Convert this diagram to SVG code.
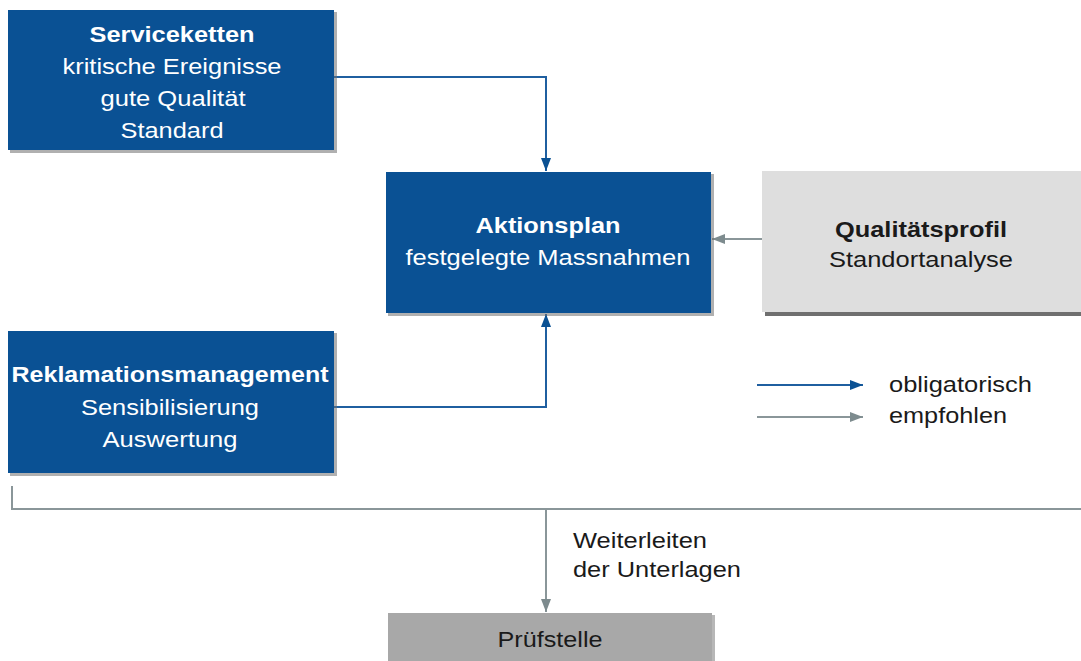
<svg xmlns="http://www.w3.org/2000/svg" width="1081" height="661" viewBox="0 0 1081 661">
<style>
text{font-family:"Liberation Sans",Arial,sans-serif;font-size:22px;text-anchor:middle}
.w{fill:#ffffff}
.k{fill:#1a1a1a}
.b{font-weight:bold}
.l{text-anchor:start}
.blue{fill:#0a5194}
.sh{fill:#6f6f6f;opacity:0.55}
.cb{stroke:#1f5fa0;stroke-width:2;fill:none}
.cg{stroke:#8a9699;stroke-width:2;fill:none}
</style>
<defs>
<marker id="ab" viewBox="0 0 13 10" refX="13" refY="5" markerWidth="13" markerHeight="10" markerUnits="userSpaceOnUse" orient="auto">
<path d="M0,0L13,5L0,10z" fill="#0a5194"/>
</marker>
<marker id="ag" viewBox="0 0 13 10" refX="13" refY="5" markerWidth="13" markerHeight="10" markerUnits="userSpaceOnUse" orient="auto">
<path d="M0,0L13,5L0,10z" fill="#7d8b8e"/>
</marker>
</defs>
<rect width="1081" height="661" fill="#ffffff"/>
<g id="connectors">
<path class="cb" d="M334,77H546V171" marker-end="url(#ab)"/>
<path class="cb" d="M334,407H546V314" marker-end="url(#ab)"/>
<path class="cg" d="M762,239H712" marker-end="url(#ag)"/>
<path class="cg" d="M12,486V509H1081"/>
<path class="cg" d="M546,509V612" marker-end="url(#ag)"/>
</g>
<g id="serviceketten">
<rect class="sh" x="10" y="12" width="327" height="141"/>
<rect class="blue" x="8" y="10" width="326" height="140"/>
<text class="w b" x="172" y="42" textLength="165" lengthAdjust="spacingAndGlyphs">Serviceketten</text>
<text class="w" x="172" y="74" textLength="219" lengthAdjust="spacingAndGlyphs">kritische Ereignisse</text>
<text class="w" x="173" y="106" textLength="145" lengthAdjust="spacingAndGlyphs">gute Qualität</text>
<text class="w" x="172" y="138" textLength="103" lengthAdjust="spacingAndGlyphs">Standard</text>
</g>
<g id="aktionsplan">
<rect class="sh" x="388" y="174" width="326" height="142"/>
<rect class="blue" x="386" y="172" width="325" height="141"/>
<text class="w b" x="548" y="233" textLength="145" lengthAdjust="spacingAndGlyphs">Aktionsplan</text>
<text class="w" x="548" y="265" textLength="285" lengthAdjust="spacingAndGlyphs">festgelegte Massnahmen</text>
</g>
<g id="qualitaetsprofil">
<rect fill="#6f6f6f" x="765" y="174" width="316" height="142"/>
<rect fill="#dedede" x="762" y="171" width="319" height="141"/>
<text class="k b" x="921" y="237" textLength="172" lengthAdjust="spacingAndGlyphs">Qualitätsprofil</text>
<text class="k" x="921" y="267" textLength="184" lengthAdjust="spacingAndGlyphs">Standortanalyse</text>
</g>
<g id="reklamationsmanagement">
<rect class="sh" x="10" y="333" width="327" height="143"/>
<rect class="blue" x="8" y="331" width="326" height="142"/>
<text class="w b" x="170" y="382" textLength="317" lengthAdjust="spacingAndGlyphs">Reklamationsmanagement</text>
<text class="w" x="170" y="415" textLength="178" lengthAdjust="spacingAndGlyphs">Sensibilisierung</text>
<text class="w" x="170" y="447" textLength="135" lengthAdjust="spacingAndGlyphs">Auswertung</text>
</g>
<g id="legend">
<path class="cb" d="M757,385H863" marker-end="url(#ab)"/>
<path class="cg" d="M757,417H863" marker-end="url(#ag)"/>
<text class="k l" x="889" y="392" textLength="143" lengthAdjust="spacingAndGlyphs">obligatorisch</text>
<text class="k l" x="889" y="423" textLength="118" lengthAdjust="spacingAndGlyphs">empfohlen</text>
</g>
<g id="weiterleiten">
<text class="k l" x="573" y="548" textLength="134" lengthAdjust="spacingAndGlyphs">Weiterleiten</text>
<text class="k l" x="573" y="577" textLength="168" lengthAdjust="spacingAndGlyphs">der Unterlagen</text>
</g>
<g id="pruefstelle">
<rect fill="#6f6f6f" opacity="0.5" x="390" y="615" width="325" height="50"/>
<rect fill="#a8a8a8" x="388" y="613" width="324" height="48"/>
<text class="k" x="550" y="647" textLength="105" lengthAdjust="spacingAndGlyphs">Prüfstelle</text>
</g>
</svg>
